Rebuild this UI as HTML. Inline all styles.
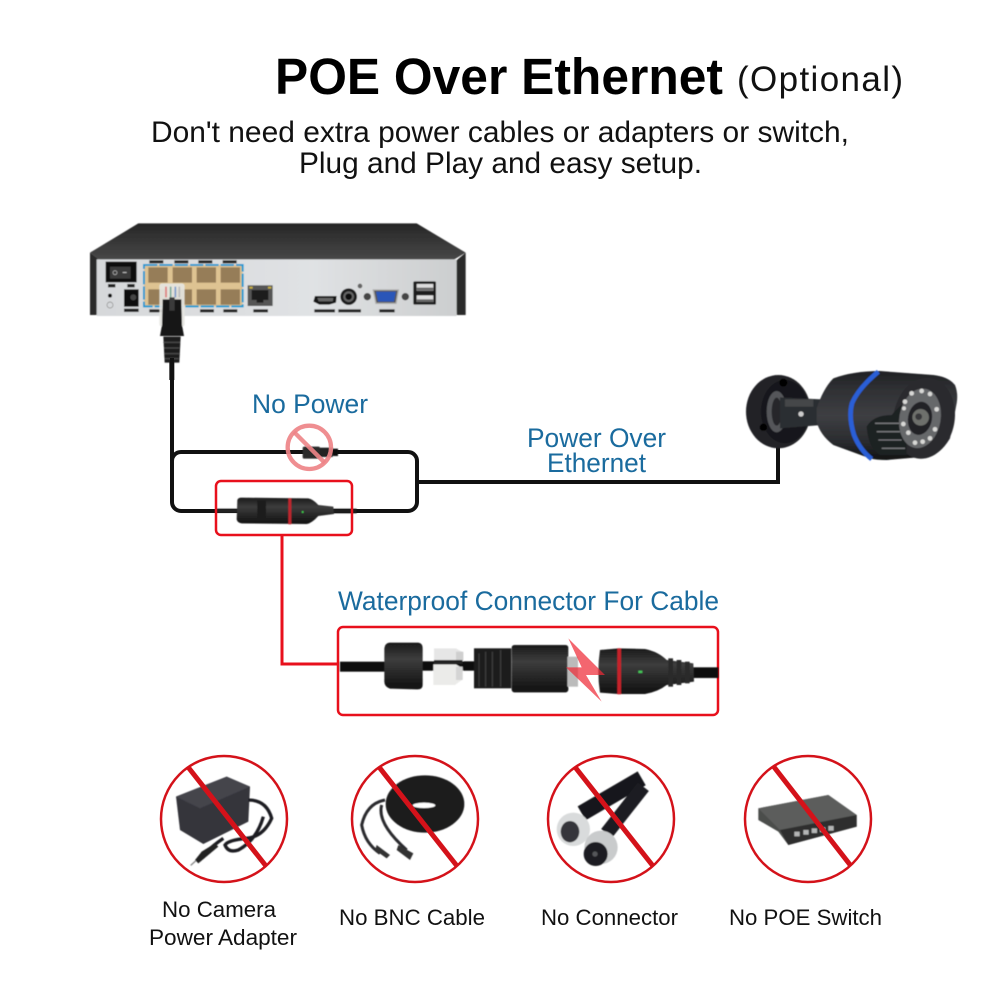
<!DOCTYPE html>
<html><head><meta charset="utf-8"><style>
html,body{margin:0;padding:0;background:#fff}
svg{display:block}
text{font-family:"Liberation Sans",sans-serif}
</style></head><body>
<svg width="1000" height="1000" viewBox="0 0 1000 1000" xmlns="http://www.w3.org/2000/svg">
<defs>
<filter id="b"><feGaussianBlur stdDeviation="1.5"/></filter>
<filter id="b3"><feGaussianBlur stdDeviation="2.5"/></filter>
<linearGradient id="top" x1="0" y1="0" x2="0" y2="1"><stop offset="0" stop-color="#262626"/><stop offset="1" stop-color="#484848"/></linearGradient>
<linearGradient id="panel" x1="0" y1="0" x2="1" y2="0"><stop offset="0" stop-color="#d6d8da"/><stop offset=".6" stop-color="#e0e2e4"/><stop offset="1" stop-color="#cccecf"/></linearGradient>
<linearGradient id="cam" x1="0" y1="0" x2="0" y2="1"><stop offset="0" stop-color="#202124"/><stop offset=".18" stop-color="#2e2f32"/><stop offset=".5" stop-color="#3e3f43"/><stop offset=".8" stop-color="#2a2b2e"/><stop offset="1" stop-color="#101113"/></linearGradient>
<linearGradient id="conn" x1="0" y1="0" x2="0" y2="1"><stop offset="0" stop-color="#1a1a1a"/><stop offset=".35" stop-color="#3d3d3d"/><stop offset="1" stop-color="#101010"/></linearGradient>
<radialGradient id="ring" cx=".5" cy=".5" r=".5"><stop offset=".6" stop-color="#6a6b6e"/><stop offset="1" stop-color="#d0d1d2"/></radialGradient>
</defs>

<text x="275" y="94" font-size="51" font-weight="700" fill="#000" textLength="448" lengthAdjust="spacingAndGlyphs">POE Over Ethernet</text>
<text x="737" y="91" font-size="35" fill="#111" textLength="166" lengthAdjust="spacing">(Optional)</text>
<text x="151" y="142" font-size="30" fill="#111" textLength="698" lengthAdjust="spacingAndGlyphs">Don't need extra power cables or adapters or switch,</text>
<text x="299" y="173" font-size="30" fill="#111" textLength="403" lengthAdjust="spacingAndGlyphs">Plug and Play and easy setup.</text>

<!-- NVR -->
<g transform="translate(80,210) scale(.33333)">
<g filter="url(#b)">
<polygon points="175,40 1010,40 1157,128 1120,150 60,150 30,128" fill="url(#top)"/>
<polygon points="30,128 60,150 60,315 30,315" fill="#2c2c2c"/>
<polygon points="1157,128 1125,155 1130,315 1157,315" fill="#2c2c2c"/>
<rect x="50" y="148" width="1080" height="170" fill="url(#panel)"/>
<rect x="77" y="155" width="93" height="62" fill="#111"/>
<rect x="90" y="170" width="62" height="36" fill="#3a3a3a"/>
<circle cx="105" cy="188" r="6" fill="none" stroke="#bbb" stroke-width="2"/>
<rect x="128" y="186" width="12" height="3" fill="#bbb"/>
<rect x="84" y="222" width="22" height="10" fill="#222"/><rect x="142" y="222" width="22" height="10" fill="#222"/>
<circle cx="90" cy="257" r="6" fill="#111"/>
<circle cx="90" cy="285" r="9" fill="none" stroke="#888" stroke-width="2"/>
<rect x="132" y="238" width="44" height="52" fill="#111"/>
<circle cx="160" cy="262" r="9" fill="#444"/>
<rect x="132" y="296" width="44" height="10" fill="#222"/>
<rect x="192" y="165" width="296" height="124" fill="#dec392" stroke="#1a9ad0" stroke-width="6" stroke-dasharray="40 6"/>
<g fill="#967d58"><rect x="205" y="172" width="58" height="46"/><rect x="278" y="172" width="58" height="46"/><rect x="350" y="172" width="58" height="46"/><rect x="422" y="172" width="58" height="46"/><rect x="205" y="238" width="58" height="46"/><rect x="278" y="238" width="58" height="46"/><rect x="350" y="238" width="58" height="46"/><rect x="422" y="238" width="58" height="46"/></g>
<g fill="#222"><rect x="208" y="151" width="42" height="9"/><rect x="283" y="151" width="42" height="9"/><rect x="355" y="151" width="42" height="9"/><rect x="428" y="151" width="42" height="9"/><rect x="208" y="298" width="42" height="9"/><rect x="360" y="298" width="42" height="9"/><rect x="430" y="298" width="42" height="9"/><rect x="520" y="298" width="44" height="9"/><rect x="703" y="298" width="62" height="9"/><rect x="775" y="298" width="68" height="9"/><rect x="898" y="298" width="46" height="9"/></g>
<rect x="503" y="226" width="75" height="62" fill="#555"/>
<polygon points="515,240 565,240 565,270 550,270 550,278 530,278 530,270 515,270" fill="#1d1d1d"/>
<rect x="508" y="230" width="10" height="6" fill="#c8b040"/><rect x="564" y="230" width="10" height="6" fill="#c8b040"/>
<polygon points="705,258 770,258 768,278 748,284 718,284 700,275" fill="#161616"/>
<polygon points="712,264 760,264 758,274 716,274" fill="#666"/>
<circle cx="806" cy="260" r="25" fill="#1c1c1c"/><circle cx="806" cy="260" r="16" fill="#666"/><circle cx="806" cy="260" r="10" fill="#111"/>
<circle cx="840" cy="228" r="7" fill="#666"/>
<circle cx="862" cy="260" r="11" fill="#444"/><circle cx="976" cy="260" r="11" fill="#444"/>
<polygon points="880,240 955,240 948,280 888,280" fill="#555" stroke="#aaa" stroke-width="4"/>
<polygon points="888,245 948,245 942,275 894,275" fill="#2a56b8"/>
<rect x="1000" y="214" width="68" height="70" rx="4" fill="#1d1d1d"/>
<rect x="1010" y="222" width="50" height="20" fill="#ddd"/><rect x="1010" y="256" width="50" height="20" fill="#ddd"/>
<rect x="1010" y="233" width="50" height="8" fill="#666"/><rect x="1010" y="268" width="50" height="8" fill="#666"/>
</g>
<!-- plug -->
<rect x="268" y="440" width="15" height="70" fill="#111"/>
<g filter="url(#b)">
<rect x="238" y="220" width="76" height="130" rx="8" fill="#e6e6e2" opacity=".92"/>
<g stroke-width="5"><line x1="258" y1="230" x2="258" y2="262" stroke="#d77"/><line x1="272" y1="230" x2="272" y2="262" stroke="#7a9"/><line x1="286" y1="230" x2="286" y2="262" stroke="#79c"/><line x1="298" y1="230" x2="298" y2="262" stroke="#bbb"/></g>
<polygon points="248,268 304,268 306,345 312,378 240,378 246,345" fill="#141414"/>
<rect x="268" y="262" width="16" height="40" fill="#3a3a3a"/>
<polygon points="250,380 302,380 298,458 254,458" fill="#1c1c1c"/>
<g fill="#4a4a4a"><rect x="250" y="395" width="50" height="4"/><rect x="252" y="412" width="46" height="4"/><rect x="253" y="429" width="44" height="4"/><rect x="254" y="444" width="42" height="4"/></g>
</g>
</g>

<!-- lines -->
<g fill="none" stroke="#111" stroke-width="4" stroke-linejoin="round">
<line x1="172" y1="358" x2="172" y2="470"/>
<rect x="172" y="452" width="245" height="59" rx="9"/>
<polyline points="417,482 778,482 778,447" stroke-linejoin="miter"/>
</g>

<!-- no-power -->
<g transform="translate(160,410) scale(.33333)">
<g filter="url(#b)">
<rect x="428" y="110" width="52" height="36" rx="5" fill="#2a2a2a"/>
<rect x="480" y="113" width="38" height="28" fill="#222"/>
<rect x="518" y="116" width="16" height="22" fill="#111"/>
</g>
<circle cx="448" cy="112" r="65" fill="none" stroke="#ee8488" stroke-width="13" opacity=".92"/>
<line x1="402" y1="66" x2="494" y2="158" stroke="#ee8488" stroke-width="13" opacity=".9"/>
</g>

<!-- inline connector -->
<g transform="translate(160,410) scale(.33333)">
<g filter="url(#b)">
<rect x="170" y="296" width="62" height="12" fill="#222"/>
<rect x="520" y="296" width="70" height="14" fill="#1a1a1a"/>
<path d="M232,270 Q234,263 245,263 L445,265 Q460,268 475,285 L520,290 L522,312 L475,318 Q455,340 440,342 L245,340 Q232,338 230,328 Z" fill="url(#conn)"/>
<rect x="385" y="265" width="9" height="78" fill="#c0272d"/>
<rect x="292" y="272" width="26" height="55" fill="#1a1a1a"/>
<circle cx="428" cy="306" r="3" fill="#3fd34f"/>
</g>
</g>

<!-- red boxes -->
<g fill="none" stroke="#e8101c" stroke-width="2.5">
<rect x="216" y="481" width="136" height="54" rx="5"/>
<polyline points="282,535 282,664 338,664" stroke-width="3"/>
<rect x="338" y="627" width="380" height="88" rx="5"/>
</g>

<!-- labels -->
<g fill="#1a6b9e">
<text x="252" y="413" font-size="27" textLength="116" lengthAdjust="spacingAndGlyphs">No Power</text>
<text x="527" y="447" font-size="27" textLength="139" lengthAdjust="spacingAndGlyphs">Power Over</text>
<text x="547" y="472" font-size="27" textLength="99" lengthAdjust="spacingAndGlyphs">Ethernet</text>
<text x="338" y="610" font-size="27" textLength="381" lengthAdjust="spacingAndGlyphs">Waterproof Connector For Cable</text>
</g>

<!-- camera -->
<g transform="translate(730,360) scale(.33333)">
<g filter="url(#b)">
<ellipse cx="145" cy="155" rx="97" ry="110" fill="#232426"/>
<ellipse cx="165" cy="155" rx="72" ry="95" fill="#17181a"/>
<ellipse cx="140" cy="155" rx="30" ry="62" fill="#55565a"/>
<ellipse cx="140" cy="155" rx="15" ry="42" fill="#26272a"/>
<circle cx="160" cy="68" r="12" fill="#050505"/>
<circle cx="100" cy="202" r="11" fill="#050505"/>
<polygon points="150,112 275,118 275,195 150,205" fill="#2c2d30"/>
<rect x="165" y="118" width="85" height="22" fill="#55565a" opacity=".6"/>
<circle cx="213" cy="162" r="8" fill="#ccc"/>
<path d="M260,145 Q280,85 310,55 Q370,33 450,33 L610,45 Q655,50 675,75 Q685,100 680,130 L660,235 Q630,285 590,290 L470,300 Q440,300 420,295 L310,255 Q270,225 260,185 Z" fill="url(#cam)"/>
<path d="M445,35 Q385,85 366,130 Q355,170 372,225 Q390,270 425,297" fill="none" stroke="#2c5fd6" stroke-width="14"/>
<ellipse cx="582" cy="175" rx="92" ry="122" fill="#2a2b2e" transform="rotate(10 582 175)"/>
<path d="M410,200 Q430,165 485,165 Q510,135 530,125 L530,285 L450,285 Q415,265 410,200Z" fill="#1f2023"/>
<g stroke="#77787b" stroke-width="4"><line x1="435" y1="190" x2="510" y2="190"/><line x1="440" y1="215" x2="510" y2="215"/><line x1="445" y1="240" x2="515" y2="240"/><line x1="455" y1="265" x2="525" y2="265"/></g>
<ellipse cx="570" cy="175" rx="62" ry="90" fill="#66676a" transform="rotate(10 570 175)"/>
<ellipse cx="570" cy="175" rx="36" ry="50" fill="#232427" transform="rotate(10 570 175)"/>
<circle cx="572" cy="172" r="25" fill="#6e6f6c"/><circle cx="566" cy="170" r="10" fill="#38383a"/>
<g fill="#d8d8d6"><circle cx="545" cy="100" r="7"/><circle cx="575" cy="93" r="7"/><circle cx="600" cy="102" r="7"/><circle cx="525" cy="125" r="7"/><circle cx="620" cy="148" r="7"/><circle cx="522" cy="145" r="6"/><circle cx="520" cy="192" r="7"/><circle cx="535" cy="218" r="7"/><circle cx="555" cy="248" r="7"/><circle cx="578" cy="245" r="7"/><circle cx="600" cy="235" r="7"/><circle cx="615" cy="208" r="7"/></g>
</g>
</g>

<!-- waterproof -->
<g transform="translate(330,620) scale(.33333)">
<g filter="url(#b)">
<rect x="30" y="125" width="135" height="30" fill="#111"/>
<rect x="270" y="124" width="170" height="28" fill="#111"/>
<rect x="1090" y="142" width="75" height="32" fill="#111"/>
<path d="M178,68 L265,68 Q278,70 278,85 L278,195 Q278,208 262,208 L180,206 Q163,200 163,185 L163,85 Q165,70 178,68Z" fill="url(#conn)"/>
<polygon points="312,85 378,85 400,98 400,118 378,125 312,125" fill="#e6e6e6"/>
<polygon points="310,133 378,133 398,145 398,178 375,195 310,195" fill="#ebebe9"/>
<rect x="378" y="95" width="22" height="28" fill="#cfcfcf"/><rect x="378" y="140" width="20" height="40" fill="#d4d4d4"/>
<rect x="312" y="120" width="85" height="12" fill="#222"/>
<rect x="432" y="85" width="112" height="120" fill="#1c1c1c"/>
<g fill="#3b3b3b"><rect x="445" y="100" width="4" height="100"/><rect x="465" y="95" width="4" height="105"/><rect x="485" y="95" width="4" height="105"/><rect x="510" y="90" width="4" height="110"/></g>
<rect x="545" y="75" width="170" height="142" rx="8" fill="url(#conn)"/>
<rect x="712" y="110" width="32" height="90" fill="#bbb"/>
<path d="M810,90 L865,85 L945,87 Q985,95 1010,120 L1090,130 L1092,185 L1010,195 Q985,215 945,222 L865,222 L810,218 Q800,155 810,90Z" fill="url(#conn)"/>
<rect x="862" y="85" width="11" height="138" fill="#c6242c"/>
<g fill="#2a2a2a"><rect x="1015" y="115" width="14" height="85"/><rect x="1040" y="120" width="14" height="75"/><rect x="1065" y="125" width="14" height="65"/></g>
<rect x="925" y="152" width="12" height="7" fill="#44c85a"/>
</g>
<polygon points="715,55 825,165 768,165 815,245 708,142 755,142" fill="#ee2b38" opacity=".72"/>
</g>

<!-- forbidden icons -->
<g transform="translate(150,750) scale(.33333)" filter="url(#b)">
<polygon points="78,140 230,80 300,110 295,215 160,282 90,240" fill="#34343a"/>
<polygon points="78,140 230,80 300,110 150,175" fill="#44444c"/>
<g fill="none" stroke="#1c1c20" stroke-width="10"><path d="M295,150 Q350,150 365,205 Q340,260 290,265 Q235,270 225,285 Q235,310 265,300 Q320,270 340,200"/><path d="M220,265 Q190,285 165,310"/></g>
<polygon points="155,305 195,280 205,290 145,340 135,330" fill="#222"/>
<line x1="138" y1="332" x2="122" y2="346" stroke="#888" stroke-width="4"/>
<ellipse cx="825" cy="162" rx="118" ry="86" fill="#1d1d1f"/>
<ellipse cx="822" cy="166" rx="34" ry="8" fill="#fff"/>
<g fill="none" stroke="#2b2b2d" stroke-width="9"><path d="M705,150 Q650,160 635,225 Q645,280 690,310"/><path d="M695,165 Q680,220 770,300"/></g>
<polygon points="680,285 720,315 710,325 675,300" fill="#333"/><polygon points="745,285 790,310 780,330 740,300" fill="#333"/>
</g>
<g transform="translate(535,750) scale(.33333)" filter="url(#b)">
<line x1="140" y1="190" x2="320" y2="85" stroke="#15161a" stroke-width="48"/>
<line x1="215" y1="250" x2="325" y2="110" stroke="#1b1c20" stroke-width="42"/>
<ellipse cx="115" cy="238" rx="50" ry="50" fill="#d9dbdc"/>
<ellipse cx="105" cy="245" rx="28" ry="32" fill="#35363a"/>
<circle cx="198" cy="292" r="50" fill="#c9cbcc"/>
<circle cx="182" cy="312" r="36" fill="#1d1e22"/>
<circle cx="180" cy="312" r="8" fill="#55565a"/>
<polygon points="670,175 880,135 965,195 965,230 760,285 730,245 670,210" fill="#4c4d4c"/>
<polygon points="670,175 880,135 965,195 735,240" fill="#5c5d5c"/>
<polygon points="735,240 965,195 965,230 760,285" fill="#2e2f2e"/>
<g fill="#b4b5b5"><rect x="778" y="245" width="16" height="14"/><rect x="805" y="240" width="16" height="14"/><rect x="830" y="235" width="16" height="14"/><rect x="855" y="232" width="16" height="14"/><rect x="880" y="228" width="16" height="14"/></g>
</g>
<g fill="none" stroke="#d4121a" stroke-width="2.5">
<circle cx="224" cy="819" r="63"/><circle cx="415" cy="819" r="63"/><circle cx="611" cy="819" r="63"/><circle cx="808" cy="819" r="63"/>
</g>
<g stroke="#d4121a" stroke-width="5">
<line x1="188" y1="767" x2="266" y2="866"/>
<line x1="379" y1="767" x2="457" y2="866"/>
<line x1="575" y1="767" x2="653" y2="866"/>
<line x1="774" y1="767" x2="851" y2="866"/>
</g>

<g fill="#111" font-size="22.5">
<text x="162" y="917" textLength="114" lengthAdjust="spacingAndGlyphs">No Camera</text>
<text x="149" y="945" textLength="148" lengthAdjust="spacingAndGlyphs">Power Adapter</text>
<text x="339" y="925" textLength="146" lengthAdjust="spacingAndGlyphs">No BNC Cable</text>
<text x="541" y="925" textLength="137" lengthAdjust="spacingAndGlyphs">No Connector</text>
<text x="729" y="925" textLength="153" lengthAdjust="spacingAndGlyphs">No POE Switch</text>
</g>
</svg>
</body></html>
